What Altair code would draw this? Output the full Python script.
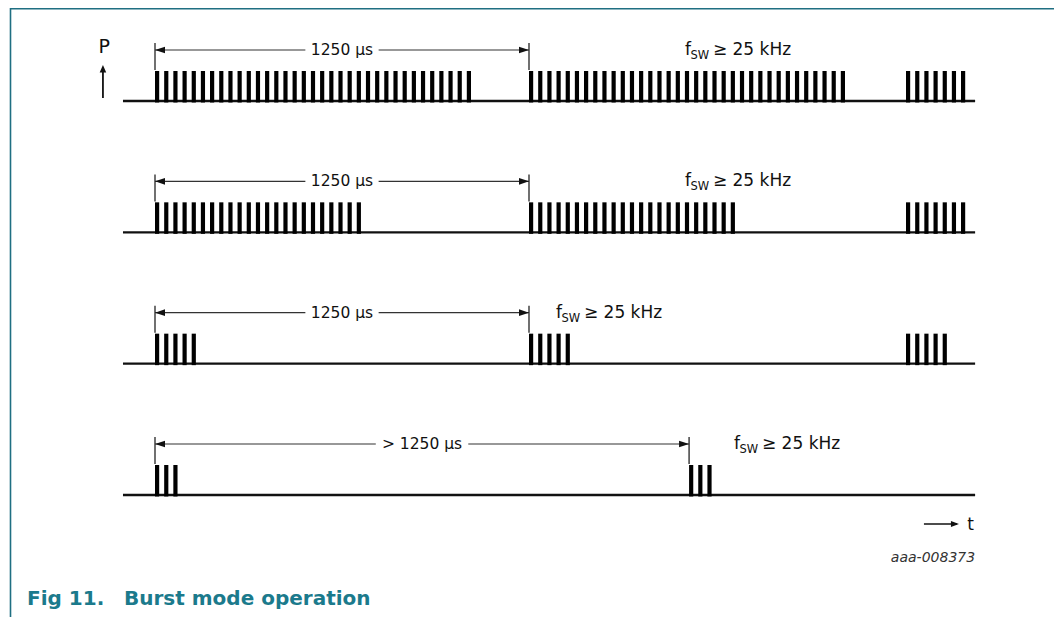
import altair as alt
import pandas as pd

# ---------------- data (time in µs, power in units of pulse amplitude) ----------------
row_ids = [0, 1, 2, 3]
burst_rows = [0, 0, 0, 1, 1, 1, 2, 2, 2, 3, 3]
burst_starts = [0, 1250, 2510, 0, 1250, 2510, 0, 1250, 2510, 0, 1785]
burst_counts = [35, 35, 7, 23, 23, 7, 5, 5, 5, 3, 3]
span_ends = [1250, 1250, 1250, 1785]
span_labels = ["1250 µs", "1250 µs", "1250 µs", "> 1250 µs"]
fsw_starts = [1771, 1771, 1340, 1935]
baseline_start, baseline_end = -107, 2741
pulse_period_us = 30.65
pulse_width_us = 14
pulse_amp = 1.0
fig_number = "Fig 11."
fig_title = "Burst mode operation"
fig_code = "aaa-008373"

# ---------------- layout ----------------
W, H = 1046, 609
PX_PER_US = 374 / 1250
X0 = 147                       # view x of t = 0
UNIT = 30                      # px per power unit
Y0 = 93                        # view y of first baseline
ROW_GAP = 131.33 / UNIT
FONT = "DejaVu Sans"
INK = "#111111"
TEAL = "#1b7a8c"

xdom = [-X0 / PX_PER_US, (W - X0) / PX_PER_US]
ydom = [(Y0 - H) / UNIT, Y0 / UNIT]
xs = alt.Scale(domain=xdom, nice=False, zero=False)
ys = alt.Scale(domain=ydom, nice=False, zero=False)


def yb(r):
    return -r * ROW_GAP


pulse_rows = []
for r, s, n in zip(burst_rows, burst_starts, burst_counts):
    for k in range(n):
        ts = s + k * pulse_period_us
        pulse_rows.append({"ts": ts, "te": ts + pulse_width_us,
                           "y0": yb(r) - 0.05, "y1": yb(r) + pulse_amp})
pulses = pd.DataFrame(pulse_rows)

base = pd.DataFrame({"t0": baseline_start, "t1": baseline_end,
                     "y": [yb(r) for r in row_ids]})

DIM = 1.7
ticks, segs, lheads, rheads, labels, fsw = [], [], [], [], [], []
for r, e, lab, fs in zip(row_ids, span_ends, span_labels, fsw_starts):
    y = yb(r)
    for t in (0, e):
        ticks.append({"t": t, "ya": y + pulse_amp + 0.03, "yb": y + 1.93})
    mid = e / 2
    g = (0.31 * 15.5 * len(lab) + 3) / PX_PER_US
    segs.append({"a": 0, "b": mid - g, "y": y + DIM})
    segs.append({"a": mid + g, "b": e, "y": y + DIM})
    lheads.append({"t": 0, "y": y + DIM})
    rheads.append({"t": e, "y": y + DIM})
    labels.append({"t": mid, "y": y + DIM, "label": lab})
    fsw.append({"t": fs, "y": y + 1.53, "ys": y + 1.4})
ticks = pd.DataFrame(ticks)
segs = pd.DataFrame(segs)
lheads = pd.DataFrame(lheads)
rheads = pd.DataFrame(rheads)
labels = pd.DataFrame(labels)
fsw = pd.DataFrame(fsw)

RIGHT = "M0,0L-2,-0.66L-2,0.66Z"
LEFT = "M0,0L2,-0.66L2,0.66Z"
UP = "M0,0L-0.65,1.5L0.65,1.5Z"

layers = []
layers.append(alt.Chart(base).mark_rule(color=INK, strokeWidth=2.4).encode(
    x=alt.X("t0:Q", scale=xs, axis=None), x2="t1:Q",
    y=alt.Y("y:Q", scale=ys, axis=None)))
layers.append(alt.Chart(pulses).mark_rect(color="#000000").encode(
    x=alt.X("ts:Q", scale=xs, axis=None), x2="te:Q",
    y=alt.Y("y0:Q", scale=ys, axis=None), y2="y1:Q"))
layers.append(alt.Chart(ticks).mark_rule(color=INK, strokeWidth=1.2).encode(
    x=alt.X("t:Q", scale=xs, axis=None),
    y=alt.Y("ya:Q", scale=ys, axis=None), y2="yb:Q"))
layers.append(alt.Chart(segs).mark_rule(color="#333333", strokeWidth=1.2).encode(
    x=alt.X("a:Q", scale=xs, axis=None), x2="b:Q",
    y=alt.Y("y:Q", scale=ys, axis=None)))
for df, shp in ((lheads, LEFT), (rheads, RIGHT)):
    layers.append(alt.Chart(df).mark_point(shape=shp, filled=True, size=100, opacity=1,
                                           color=INK, strokeWidth=0).encode(
        x=alt.X("t:Q", scale=xs, axis=None), y=alt.Y("y:Q", scale=ys, axis=None)))
layers.append(alt.Chart(labels).mark_text(font=FONT, fontSize=15.5, color=INK).encode(
    x=alt.X("t:Q", scale=xs, axis=None), y=alt.Y("y:Q", scale=ys, axis=None),
    text="label:N"))
layers.append(alt.Chart(fsw).mark_text(font=FONT, fontSize=17, color=INK, align="left",
                                       baseline="alphabetic", text="f").encode(
    x=alt.X("t:Q", scale=xs, axis=None), y=alt.Y("y:Q", scale=ys, axis=None)))
layers.append(alt.Chart(fsw).mark_text(font=FONT, fontSize=11.5, color=INK, align="left",
                                       baseline="alphabetic", text="SW", dx=5.5).encode(
    x=alt.X("t:Q", scale=xs, axis=None), y=alt.Y("ys:Q", scale=ys, axis=None)))
layers.append(alt.Chart(fsw).mark_text(font=FONT, fontSize=17, color=INK, align="left",
                                       baseline="alphabetic", text="≥ 25 kHz", dx=28).encode(
    x=alt.X("t:Q", scale=xs, axis=None), y=alt.Y("y:Q", scale=ys, axis=None)))

# P axis arrow
p_axis = pd.DataFrame({"t": [-174], "ya": [0.1], "yb": [1.1], "yt": [1.2], "yl": [1.8], "tl": [-170]})
layers.append(alt.Chart(p_axis).mark_rule(color=INK, strokeWidth=1.8).encode(
    x=alt.X("t:Q", scale=xs, axis=None), y=alt.Y("ya:Q", scale=ys, axis=None), y2="yb:Q"))
layers.append(alt.Chart(p_axis).mark_point(shape=UP, filled=True, size=100, opacity=1,
                                           color=INK, strokeWidth=0).encode(
    x=alt.X("t:Q", scale=xs, axis=None), y=alt.Y("yt:Q", scale=ys, axis=None)))
layers.append(alt.Chart(p_axis).mark_text(font=FONT, fontSize=19, color=INK, text="P").encode(
    x=alt.X("tl:Q", scale=xs, axis=None), y=alt.Y("yl:Q", scale=ys, axis=None)))

# t axis arrow
t_axis = pd.DataFrame({"a": [2570], "b": [2680], "tip": [2687], "y": [-3 * ROW_GAP - 0.97],
                       "tl": [2715], "yl": [-3 * ROW_GAP - 1.0]})
layers.append(alt.Chart(t_axis).mark_rule(color=INK, strokeWidth=1.5).encode(
    x=alt.X("a:Q", scale=xs, axis=None), x2="b:Q", y=alt.Y("y:Q", scale=ys, axis=None)))
layers.append(alt.Chart(t_axis).mark_point(shape="M0,0L-1.6,-0.6L-1.6,0.6Z", filled=True, size=100,
                                           opacity=1, color=INK, strokeWidth=0).encode(
    x=alt.X("tip:Q", scale=xs, axis=None), y=alt.Y("y:Q", scale=ys, axis=None)))
layers.append(alt.Chart(t_axis).mark_text(font=FONT, fontSize=17, color=INK, align="left",
                                          text="t").encode(
    x=alt.X("tl:Q", scale=xs, axis=None), y=alt.Y("yl:Q", scale=ys, axis=None)))

# figure code
code_df = pd.DataFrame({"t": [baseline_end], "y": [-15.37], "label": [fig_code]})
layers.append(alt.Chart(code_df).mark_text(font=FONT, fontSize=14, fontStyle="italic",
                                           color="#333333", align="right",
                                           baseline="alphabetic").encode(
    x=alt.X("t:Q", scale=xs, axis=None), y=alt.Y("y:Q", scale=ys, axis=None), text="label:N"))

# caption and frame
cap_df = pd.DataFrame({"num": [fig_number], "title": [fig_title]})
layers.append(alt.Chart(cap_df).mark_text(font=FONT, fontSize=20, fontWeight="bold", color=TEAL,
                                          align="left", baseline="alphabetic").encode(
    x=alt.value(19), y=alt.value(597), text="num:N"))
layers.append(alt.Chart(cap_df).mark_text(font=FONT, fontSize=20, fontWeight="bold", color=TEAL,
                                          align="left", baseline="alphabetic").encode(
    x=alt.value(116), y=alt.value(597), text="title:N"))
layers.append(alt.Chart(cap_df).mark_rule(color="#1f6f82", strokeWidth=1.6).encode(
    x=alt.value(2.5), x2=alt.value(W), y=alt.value(0.8)))
layers.append(alt.Chart(cap_df).mark_rule(color="#1f6f82", strokeWidth=1.6).encode(
    x=alt.value(2.5), y=alt.value(0), y2=alt.value(H)))

chart = alt.layer(*layers).properties(
    width=W, height=H, padding=0,
    autosize=alt.AutoSizeParams(type="none"),
).configure_view(stroke=None)

chart.save("out.html", embed_options={"renderer": "svg", "actions": False})
